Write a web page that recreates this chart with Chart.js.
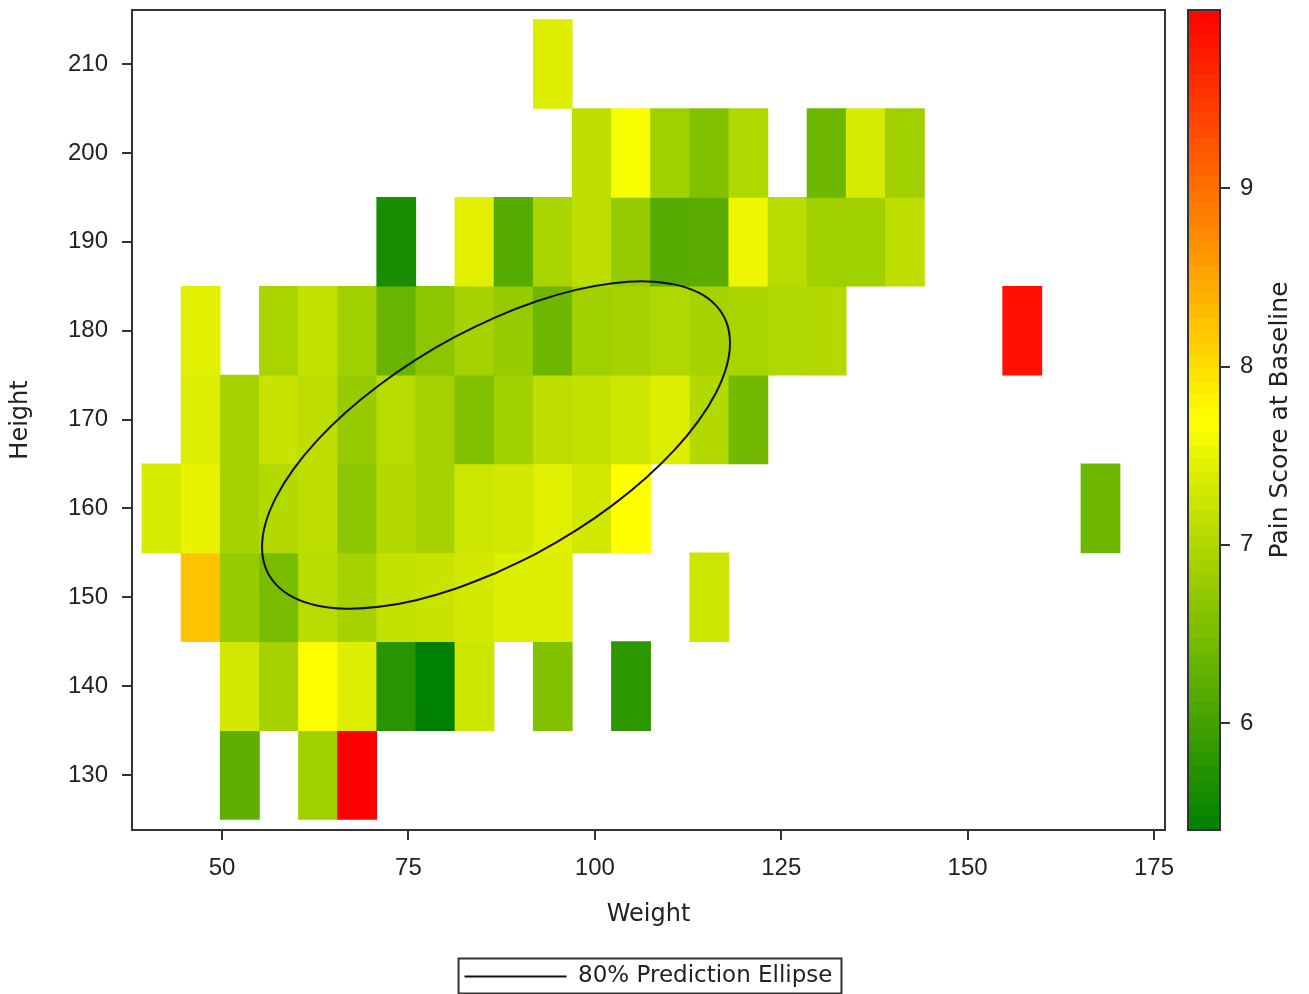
<!DOCTYPE html>
<html>
<head>
<meta charset="utf-8">
<title>Pain Score at Baseline by Height and Weight</title>
<script src="https://cdn.jsdelivr.net/npm/chart.js@4.4.1/dist/chart.umd.min.js"></script>
<style>
  html, body { margin: 0; padding: 0; background: #fff; }
  #wrap { position: relative; width: 1309px; height: 994px; }
  #main { position: absolute; left: 0; top: 0; }
  #scale { position: absolute; left: 1170px; top: 0; }
</style>
</head>
<body>
<div id="wrap">
  <canvas id="main" width="1309" height="994"></canvas>
  <canvas id="scale" width="139" height="994"></canvas>
</div>
<script>
// Weight bin edges (25 columns) and height bin centres (rows)
const weightEdges = [39.27, 44.51, 49.76, 55.02, 60.26, 65.5, 70.75, 75.99, 81.24, 86.49, 91.74,
  96.98, 102.23, 107.48, 112.73, 117.97, 123.22, 128.46, 133.72, 138.96, 144.21, 149.45,
  154.7, 159.95, 165.2, 170.44];
const heightBins = [130, 140, 150, 160, 170, 180, 190, 200, 210];

// tick labels
const weightTicks = [50, 75, 100, 125, 150, 175];
const heightTicks = [130, 140, 150, 160, 170, 180, 190, 200, 210];
const scoreTicks = [6, 7, 8, 9];
const scoreMin = 5.4;
const scoreMax = 10;

// mean pain score per cell, one list per height bin (null = empty cell)
const _ = null;
const pain130 = [_, _, 6.26, _, 6.84, 10.0, _, _, _, _, _, _, _, _, _, _, _, _, _, _, _, _, _, _, _];
const pain140 = [_, _, 7.29, 6.89, 7.7, 7.39, 5.76, 5.4, 7.25, _, 6.57, _, 5.81, _, _, _, _, _, _, _, _, _, _, _, _];
const pain150 = [_, 8.24, 6.75, 6.48, 7.07, 6.89, 7.16, 7.2, 7.29, 7.39, 7.39, _, _, _, 7.25, _, _, _, _, _, _, _, _, _, _];
const pain160 = [7.34, 7.49, 6.89, 7.02, 7.11, 6.66, 7.02, 6.89, 7.25, 7.29, 7.43, 7.29, 7.7, _, _, _, _, _, _, _, _, _, _, _, 6.39];
const pain170 = [_, 7.39, 6.89, 7.2, 7.11, 6.75, 7.07, 6.89, 6.57, 6.84, 7.11, 7.16, 7.25, 7.39, 7.02, 6.44, _, _, _, _, _, _, _, _, _];
const pain180 = [_, 7.43, _, 6.93, 7.16, 6.84, 6.35, 6.66, 6.89, 6.75, 6.39, 6.84, 6.89, 6.98, 6.89, 6.93, 6.98, 7.02, _, _, _, _, 9.86, _, _];
const pain190 = [_, _, _, _, _, _, 5.63, _, 7.43, 6.17, 6.93, 7.11, 6.75, 6.17, 6.21, 7.56, 7.07, 6.84, 6.84, 7.11, _, _, _, _, _];
const pain200 = [_, _, _, _, _, _, _, _, _, _, _, 7.11, 7.64, 6.84, 6.57, 6.98, _, 6.39, 7.34, 6.84, _, _, _, _, _];
const pain210 = [_, _, _, _, _, _, _, _, _, _, 7.39, _, _, _, _, _, _, _, _, _, _, _, _, _, _];
const painRows = [pain130, pain140, pain150, pain160, pain170, pain180, pain190, pain200, pain210];

// 80% prediction ellipse (starting on the lower arc)
const ellipseWeight = [86.75, 92.2, 97.48, 102.44, 106.92, 110.79, 113.93, 116.24, 117.66,
  118.13, 117.66, 116.24, 113.93, 110.79, 106.92, 102.44, 97.48, 92.2,
  86.75, 81.3, 76.02, 71.06, 66.58, 62.71, 59.57, 57.26, 55.84,
  55.37, 55.84, 57.26, 59.57, 62.71, 66.58, 71.06, 76.02, 81.3, 86.75];
const ellipseHeight = [152.73, 154.94, 157.52, 160.4, 163.48, 166.66, 169.87, 172.99, 175.93,
  178.61, 180.93, 182.84, 184.27, 185.18, 185.54, 185.34, 184.59, 183.31,
  181.53, 179.32, 176.74, 173.86, 170.79, 167.6, 164.39, 161.27, 158.33,
  155.65, 153.33, 151.42, 149.99, 149.08, 148.72, 148.92, 149.67, 150.96, 152.73];

const tickFont = { family: "'Liberation Sans', Arial, sans-serif", size: 24 };
const titleFont = { family: "'DejaVu Sans', sans-serif", size: 24 };
const lineCol = '#333';

// green - yellow - red ramp
function painColor(v) {
  let t = (v - scoreMin) / (scoreMax - scoreMin);
  t = Math.max(0, Math.min(1, t));
  let r, g;
  if (t < 0.5) {
    r = 255 * t / 0.5;
    g = 128 + 127 * t / 0.5;
  } else {
    r = 255;
    g = 255 * (1 - (t - 0.5) / 0.5);
  }
  return 'rgb(' + Math.round(r) + ',' + Math.round(g) + ',0)';
}

// one floating bar per filled cell
let cells = [];
heightBins.forEach((h, r) => {
  painRows[r].forEach((v, c) => {
    if (v === null) return;
    cells.push({ x: [weightEdges[c], weightEdges[c + 1]], y: h, v: v });
  });
});

const framePlugin = {
  id: 'frame',
  afterDatasetsDraw(chart) {
    const { ctx, chartArea: a } = chart;
    ctx.save();
    ctx.strokeStyle = lineCol;
    ctx.lineWidth = 2;
    ctx.strokeRect(a.left, a.top, a.right - a.left, a.bottom - a.top);
    ctx.restore();
  }
};

const legendBorder = {
  id: 'legendBorder',
  afterDraw(chart) {
    const hb = chart.legend && chart.legend.legendHitBoxes[0];
    if (!hb) return;
    const ctx = chart.ctx;
    const mid = hb.top + hb.height / 2;
    ctx.save();
    ctx.strokeStyle = lineCol;
    ctx.lineWidth = 2;
    ctx.strokeRect(hb.left - 6, mid - 18, hb.width + 15, 35);
    ctx.restore();
  }
};

new Chart(document.getElementById('main'), {
  type: 'bar',
  data: {
    datasets: [
      {
        type: 'scatter',
        label: '80% Prediction Ellipse',
        data: ellipseWeight.map((x, i) => ({ x: x, y: ellipseHeight[i] })),
        showLine: true,
        tension: 0.35,
        borderColor: '#111',
        borderWidth: 2,
        backgroundColor: 'rgba(0,0,0,0)',
        pointRadius: 0,
        order: 0
      },
      {
        label: 'Pain Score at Baseline',
        indexAxis: 'y',
        data: cells,
        backgroundColor: cells.map(c => painColor(c.v)),
        borderWidth: 0,
        barPercentage: 1,
        categoryPercentage: 1,
        order: 1
      }
    ]
  },
  options: {
    responsive: false,
    animation: false,
    events: [],
    layout: { padding: { left: 0, top: 10, right: 144, bottom: -4 } },
    plugins: {
      tooltip: { enabled: false },
      legend: {
        position: 'bottom',
        fullSize: false,
        labels: {
          filter: item => item.datasetIndex === 0,
          boxWidth: 102,
          boxHeight: 0,
          padding: 10,
          color: '#222',
          font: { family: "'DejaVu Sans', sans-serif", size: 23 }
        }
      }
    },
    scales: {
      x: {
        type: 'linear',
        min: 37.93,
        max: 176.47,
        offset: false,
        afterBuildTicks: s => { s.ticks = weightTicks.map(v => ({ value: v })); },
        afterFit: s => { s.height = 125; s.paddingLeft = 0; s.paddingRight = 0; },
        ticks: { font: tickFont, color: '#222', padding: 14 },
        grid: { drawOnChartArea: false, offset: false, tickLength: 10, color: lineCol, lineWidth: 2 },
        border: { color: lineCol, width: 2 },
        title: { display: true, text: 'Weight', font: titleFont, color: '#222', padding: { top: 0, bottom: 26 } }
      },
      y: {
        type: 'linear',
        min: 123.81,
        max: 216.08,
        offset: false,
        afterBuildTicks: s => { s.ticks = heightTicks.map(v => ({ value: v })); },
        afterFit: s => { s.width = 132; s.paddingTop = 0; s.paddingBottom = 0; },
        ticks: { font: tickFont, color: '#222', padding: 14 },
        grid: { drawOnChartArea: false, offset: false, tickLength: 10, color: lineCol, lineWidth: 2 },
        border: { color: lineCol, width: 2 },
        title: { display: true, text: 'Height', font: titleFont, color: '#222', padding: { top: 6, bottom: 0 } }
      }
    }
  },
  plugins: [framePlugin, legendBorder]
});

// colour bar legend
const bandCount = 64;
function rampGradient(context) {
  const chart = context.chart;
  if (!chart.chartArea) return painColor((scoreMin + scoreMax) / 2);
  const ys = chart.scales.y;
  const g = chart.ctx.createLinearGradient(0, ys.getPixelForValue(scoreMin), 0, ys.getPixelForValue(scoreMax));
  for (let i = 0; i < bandCount; i++) {
    const c = painColor(scoreMin + (i + 0.5) * (scoreMax - scoreMin) / bandCount);
    g.addColorStop(i / bandCount, c);
    g.addColorStop((i + 1) / bandCount, c);
  }
  return g;
}

const scaleDecor = {
  id: 'scaleDecor',
  afterDraw(chart) {
    const { ctx, chartArea: a } = chart;
    ctx.save();
    ctx.strokeStyle = lineCol;
    ctx.lineWidth = 2;
    ctx.strokeRect(a.left, a.top, a.right - a.left, a.bottom - a.top);
    ctx.translate(a.right + 60, (a.top + a.bottom) / 2);
    ctx.rotate(-Math.PI / 2);
    ctx.fillStyle = '#222';
    ctx.font = "25px 'DejaVu Sans', sans-serif";
    ctx.textAlign = 'center';
    ctx.textBaseline = 'middle';
    ctx.fillText('Pain Score at Baseline', 0, 0);
    ctx.restore();
  }
};

new Chart(document.getElementById('scale'), {
  type: 'bar',
  data: {
    labels: [''],
    datasets: [{
      data: [[scoreMin, scoreMax]],
      backgroundColor: rampGradient,
      borderWidth: 0,
      barPercentage: 1,
      categoryPercentage: 1
    }]
  },
  options: {
    responsive: false,
    animation: false,
    events: [],
    layout: { padding: { left: 18, top: 10, right: 0, bottom: 164 } },
    plugins: { legend: { display: false }, tooltip: { enabled: false } },
    scales: {
      x: { display: false },
      y: {
        position: 'right',
        min: scoreMin,
        max: scoreMax,
        afterBuildTicks: s => { s.ticks = scoreTicks.map(v => ({ value: v })); },
        afterFit: s => { s.width = 89; s.paddingTop = 0; s.paddingBottom = 0; },
        ticks: { font: tickFont, color: '#222', padding: 10 },
        grid: { drawOnChartArea: false, tickLength: 10, color: lineCol, lineWidth: 2 },
        border: { color: lineCol, width: 2 }
      }
    }
  },
  plugins: [scaleDecor]
});
</script>
</body>
</html>
